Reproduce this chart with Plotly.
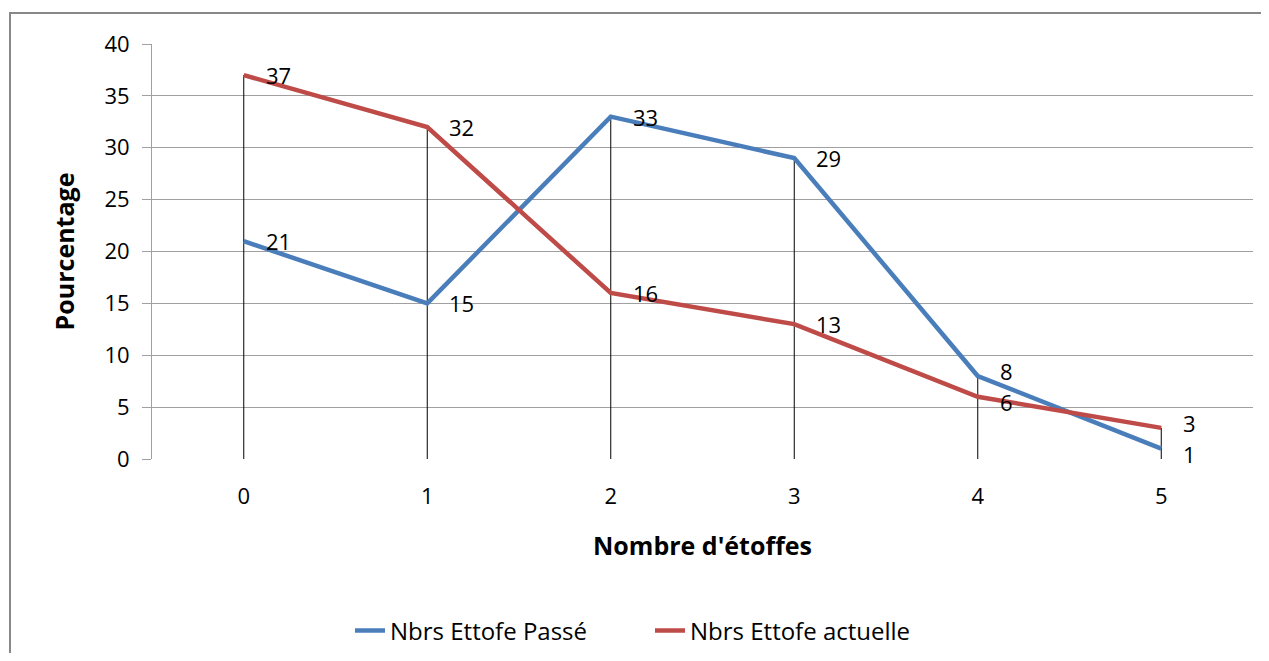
import plotly.graph_objects as go

categories = ["0", "1", "2", "3", "4", "5"]
passe = [21, 15, 33, 29, 8, 1]
actuelle = [37, 32, 16, 13, 6, 3]
y_ticks = [0, 5, 10, 15, 20, 25, 30, 35, 40]

FONT = "Open Sans"
OFF = 8  # page body margin
W, H = 1253, 645
# plot area in screen pixels
SL, SR, ST, SB = 152, 1253, 44, 459
L, R, T, B = SL - OFF, SR - OFF, ST - OFF, SB - OFF

fig = go.Figure()

# drop lines
dx, dy = [], []
for c, a, b in zip(categories, passe, actuelle):
    dx += [c, c, None]
    dy += [0, max(a, b), None]
fig.add_trace(go.Scatter(x=dx, y=dy, mode="lines", line=dict(color="black", width=1),
                         showlegend=False, hoverinfo="skip"))

fig.add_trace(go.Scatter(x=categories, y=passe, mode="lines", name="Nbrs Ettofe Passé",
                         line=dict(color="#4a7ebb", width=4.5)))
fig.add_trace(go.Scatter(x=categories, y=actuelle, mode="lines", name="Nbrs Ettofe actuelle",
                         line=dict(color="#be4b48", width=4.5)))

annotations = []
for series, other in ((passe, actuelle), (actuelle, passe)):
    for c, v, o in zip(categories, series, other):
        ys = 0
        if abs(v - o) < 3:
            ys = 5 if v > o else -5
        annotations.append(dict(x=c, y=v, text=str(v), showarrow=False, xanchor="left",
                                yanchor="middle", xshift=20, yshift=ys,
                                font=dict(size=22, color="black", family=FONT)))

pw, ph = R - L, B - T
def px(x):
    return (x - OFF - L) / pw
def py(y):
    return (B - (y - OFF)) / ph

shapes = [dict(type="rect", xref="paper", yref="paper",
               x0=px(10), x1=px(1290), y0=py(13), y1=py(700),
               line=dict(color="#888888", width=2), layer="below")]

fig.update_layout(
    width=W, height=H,
    margin=dict(l=L, r=W - R, t=T, b=H - B, autoexpand=False),
    paper_bgcolor="white", plot_bgcolor="white",
    font=dict(family=FONT, size=22, color="black"),
    showlegend=True,
    legend=dict(orientation="h", x=px(650), xanchor="center", y=py(631), yanchor="middle",
                font=dict(size=24, family=FONT), entrywidth=255, entrywidthmode="pixels",
                tracegroupgap=0),
    xaxis=dict(type="category", showgrid=False, showline=False, ticks="",
               tickfont=dict(size=22), range=[-0.5, 5.5], ticklabelstandoff=22,
               title=dict(text="<b>Nombre d'étoffes</b>", font=dict(size=25), standoff=28)),
    yaxis=dict(range=[0, 40], tickvals=y_ticks, showgrid=True, gridcolor="#a0a0a0", gridwidth=1,
               showline=True, linecolor="#a0a0a0", linewidth=1, ticks="outside", ticklen=9,
               tickcolor="#a0a0a0", tickfont=dict(size=22), zeroline=False, ticklabelstandoff=8,
               title=dict(text="<b>Pourcentage</b>", font=dict(size=25), standoff=22)),
    annotations=annotations,
    shapes=shapes,
)

fig.write_html("out.html")
